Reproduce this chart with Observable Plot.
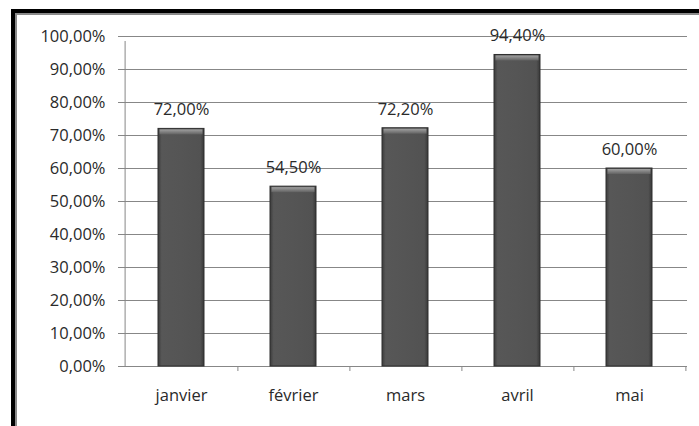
<!DOCTYPE html>
<html>
<head>
<meta charset="utf-8">
<script src="https://cdn.jsdelivr.net/npm/d3@7"></script>
<script src="https://cdn.jsdelivr.net/npm/@observablehq/plot@0.6"></script>
<style>
  html, body { margin: 0; padding: 0; background: #fff; overflow: hidden; }
  #wrap { position: relative; width: 699px; height: 426px; overflow: hidden; }
  #outer { position: absolute; left: 11px; top: 9px; width: 760px; height: 500px;
           border-left: 4px solid #000; border-top: 4px solid #000; box-sizing: border-box; }
  #inner { position: absolute; left: 15px; top: 13px; width: 760px; height: 500px;
           border-left: 2px solid #8a8a8a; border-top: 2px solid #8a8a8a; box-sizing: border-box; }
  #chart { position: absolute; left: 0; top: 0; }
  #chart svg { background: transparent !important; }
</style>
</head>
<body>
<div id="wrap">
  <div id="outer"></div>
  <div id="inner"></div>
  <div id="chart"></div>
</div>
<script>
const months = ["janvier", "février", "mars", "avril", "mai"];
const values = [72.0, 54.5, 72.2, 94.4, 60.0];
const yTicks = [0, 10, 20, 30, 40, 50, 60, 70, 80, 90, 100];

const data = months.map((m, i) => ({month: m, value: values[i]}));
const fmt = v => v.toFixed(2).replace(".", ",") + "%";

const W = 699, H = 426, ML = 123, MR = 12, MT = 36, MB = 60;
const step = (W - ML - MR) / months.length;
const gridColor = "#878787";
const font = "'Open Sans', 'Liberation Sans', sans-serif";

const chart = Plot.plot({
  width: W,
  height: H,
  marginLeft: ML,
  marginRight: MR,
  marginTop: MT,
  marginBottom: MB,
  style: {fontFamily: font, fontSize: "16.5px", color: "#2a2a2a", background: "transparent"},
  x: {domain: months, paddingInner: 0.59, paddingOuter: 0.295, align: 0.5, label: null},
  y: {domain: [0, 100], ticks: yTicks, label: null},
  marks: [
    Plot.ruleY(yTicks, {y: d => d, stroke: gridColor, strokeWidth: 1, insetLeft: -5}),
    Plot.ruleX([months[0]], {x: d => d, dx: -step / 2, y1: 0, y2: 100, stroke: gridColor, insetBottom: -5}),
    Plot.ruleX(months, {x: d => d, dx: step / 2, y1: 0, y2: 0, stroke: gridColor, insetBottom: -5}),
    Plot.barY(data, {x: "month", y: "value", fill: "url(#barBody)", stroke: "#2e2e2e", strokeWidth: 1}),
    Plot.barY(data, {x: "month", y1: "value", y2: "value", fill: "url(#barTop)", insetBottom: -6, insetLeft: 1.5, insetRight: 1.5, insetTop: 1}),
    Plot.text(data, {x: "month", y: "value", text: d => fmt(d.value), dy: -19, fill: "#2a2a2a", fontSize: 16.5}),
    Plot.axisY({ticks: yTicks, tickFormat: fmt, tickSize: 0, tickPadding: 18, fontSize: 16.5, label: null}),
    Plot.axisX({tickSize: 0, tickPadding: 23, fontSize: 16.5, label: null})
  ]
});

const svg = d3.select(chart);
const defs = svg.insert("defs", ":first-child");
const g1 = defs.append("linearGradient").attr("id", "barBody").attr("x1", "0").attr("x2", "1").attr("y1", "0").attr("y2", "0");
[["0%", "#3c3c3c"], ["8%", "#575757"], ["50%", "#555555"], ["92%", "#525252"], ["100%", "#383838"]]
  .forEach(([o, c]) => g1.append("stop").attr("offset", o).attr("stop-color", c));
const g2 = defs.append("linearGradient").attr("id", "barTop").attr("x1", "0").attr("x2", "0").attr("y1", "0").attr("y2", "1");
[["0%", "#a0a0a0"], ["100%", "#626262"]]
  .forEach(([o, c]) => g2.append("stop").attr("offset", o).attr("stop-color", c));

document.getElementById("chart").appendChild(chart);
</script>
</body>
</html>
